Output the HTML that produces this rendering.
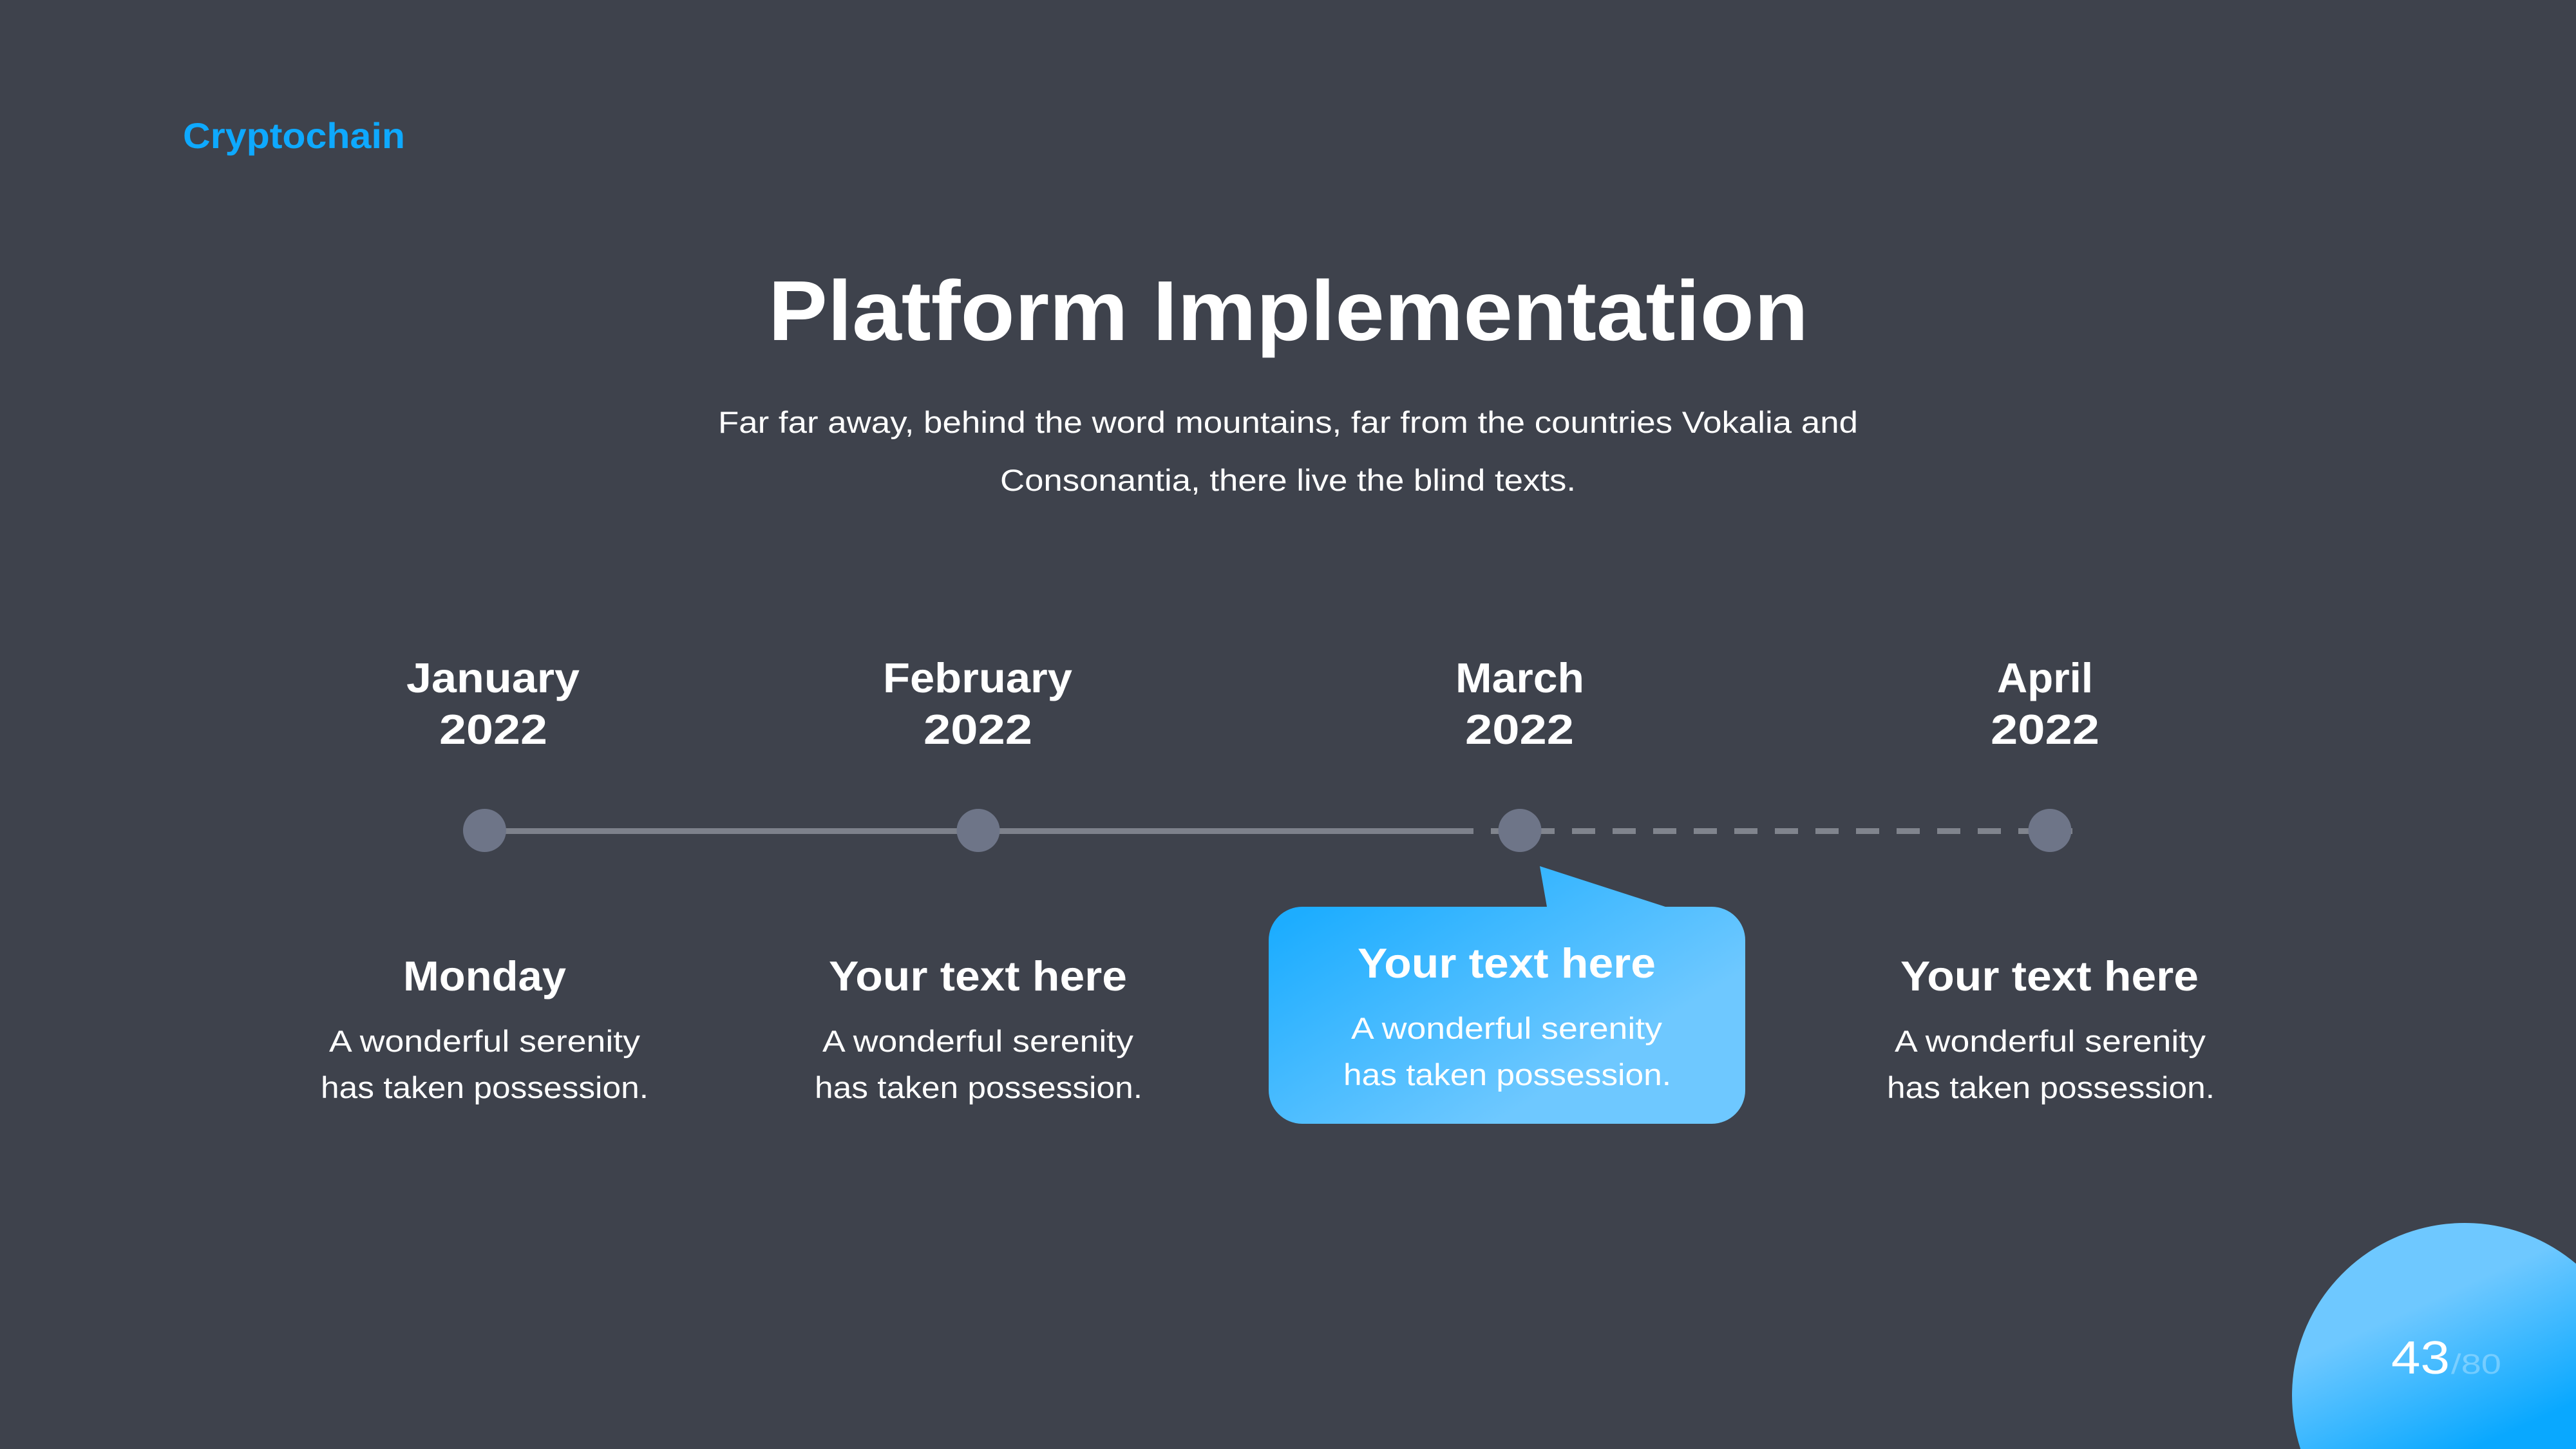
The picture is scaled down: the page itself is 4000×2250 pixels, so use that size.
<!DOCTYPE html>
<html lang="en">
<head>
<meta charset="utf-8">
<title>Platform Implementation</title>
<style>
html,body{margin:0;padding:0;width:4000px;height:2250px;overflow:hidden;background:#3e424c}
svg{display:block}
text{font-family:"Liberation Sans",sans-serif;fill:#fff}
.b{font-weight:700}
.h{font-size:65px;font-weight:700}
.p{font-size:47px}
.s{font-size:47px}
</style>
</head>
<body>
<svg xmlns="http://www.w3.org/2000/svg" width="4000" height="2250" viewBox="0 0 4000 2250">
<defs>
<linearGradient id="g1" gradientUnits="userSpaceOnUse" x1="2000" y1="1430" x2="2228" y2="1803">
<stop offset="0" stop-color="#1dadff"/><stop offset="1" stop-color="#6ec8ff"/>
</linearGradient>
<linearGradient id="g2" gradientUnits="userSpaceOnUse" x1="3633" y1="2083" x2="3731" y2="2300">
<stop offset="0" stop-color="#6ec8ff"/><stop offset="1" stop-color="#09a8ff"/>
</linearGradient>
</defs>
<rect width="4000" height="2250" fill="#3e424c"/>

<text x="284" y="230" class="b" font-size="56" style="fill:#0ea9ff" textLength="345" lengthAdjust="spacingAndGlyphs">Cryptochain</text>

<text x="1193" y="528" class="b" font-size="132" textLength="1615" lengthAdjust="spacingAndGlyphs">Platform Implementation</text>
<text x="1115" y="672" class="s" textLength="1770" lengthAdjust="spacingAndGlyphs">Far far away, behind the word mountains, far from the countries Vokalia and</text>
<text x="1553" y="762" class="s" textLength="894" lengthAdjust="spacingAndGlyphs">Consonantia, there live the blind texts.</text>

<text x="631" y="1075" class="h" textLength="269" lengthAdjust="spacingAndGlyphs">January</text>
<text x="682" y="1155" class="h" textLength="168" lengthAdjust="spacingAndGlyphs">2022</text>
<text x="1371" y="1075" class="h" textLength="294" lengthAdjust="spacingAndGlyphs">February</text>
<text x="1434" y="1155" class="h" textLength="169" lengthAdjust="spacingAndGlyphs">2022</text>
<text x="2260" y="1075" class="h" textLength="200" lengthAdjust="spacingAndGlyphs">March</text>
<text x="2275" y="1155" class="h" textLength="169" lengthAdjust="spacingAndGlyphs">2022</text>
<text x="3101" y="1075" class="h" textLength="149" lengthAdjust="spacingAndGlyphs">April</text>
<text x="3091" y="1155" class="h" textLength="169" lengthAdjust="spacingAndGlyphs">2022</text>

<rect x="752" y="1286" width="1536" height="9" fill="#7d818b"/>
<line x1="2315" y1="1290.5" x2="3218" y2="1290.5" stroke="#80848d" stroke-width="9" stroke-dasharray="36 27"/>
<circle cx="752.5" cy="1289.5" r="33.5" fill="#6e7588"/>
<circle cx="1519" cy="1289.5" r="33.5" fill="#6e7588"/>
<circle cx="2360" cy="1289.5" r="33.5" fill="#6e7588"/>
<circle cx="3183" cy="1289.5" r="33.5" fill="#6e7588"/>

<path d="M2022 1408H2402L2391 1345L2586 1408H2658A52 52 0 0 1 2710 1460V1693A52 52 0 0 1 2658 1745H2022A52 52 0 0 1 1970 1693V1460A52 52 0 0 1 2022 1408Z" fill="url(#g1)"/>

<text x="626" y="1538" class="h" textLength="253" lengthAdjust="spacingAndGlyphs">Monday</text>
<text x="511" y="1633" class="p" textLength="483" lengthAdjust="spacingAndGlyphs">A wonderful serenity</text>
<text x="498" y="1705" class="p" textLength="509" lengthAdjust="spacingAndGlyphs">has taken possession.</text>

<text x="1287" y="1538" class="h" textLength="463" lengthAdjust="spacingAndGlyphs">Your text here</text>
<text x="1277" y="1633" class="p" textLength="483" lengthAdjust="spacingAndGlyphs">A wonderful serenity</text>
<text x="1265" y="1705" class="p" textLength="509" lengthAdjust="spacingAndGlyphs">has taken possession.</text>

<text x="2108" y="1518" class="h" textLength="463" lengthAdjust="spacingAndGlyphs">Your text here</text>
<text x="2098" y="1613" class="p" textLength="483" lengthAdjust="spacingAndGlyphs">A wonderful serenity</text>
<text x="2086" y="1685" class="p" textLength="509" lengthAdjust="spacingAndGlyphs">has taken possession.</text>

<text x="2951" y="1538" class="h" textLength="463" lengthAdjust="spacingAndGlyphs">Your text here</text>
<text x="2942" y="1633" class="p" textLength="483" lengthAdjust="spacingAndGlyphs">A wonderful serenity</text>
<text x="2930" y="1705" class="p" textLength="509" lengthAdjust="spacingAndGlyphs">has taken possession.</text>

<path d="M3572.2 2250A268 268 0 0 1 4000 1962.3V2250Z" fill="url(#g2)"/>
<text x="3713" y="2133" font-size="72" textLength="91" lengthAdjust="spacingAndGlyphs">43</text>
<text x="3806" y="2133" font-size="44" style="fill:#fff;fill-opacity:.3" textLength="78" lengthAdjust="spacingAndGlyphs">/80</text>
</svg>
</body>
</html>
